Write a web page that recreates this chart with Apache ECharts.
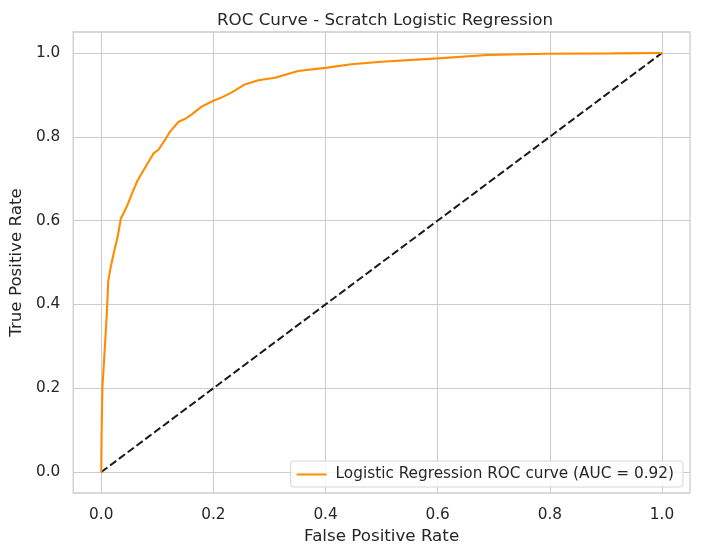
<!DOCTYPE html>
<html>
<head>
<meta charset="utf-8">
<script src="https://cdn.jsdelivr.net/npm/echarts@6/dist/echarts.min.js"></script>
<style>
  html, body { margin: 0; padding: 0; background: #fff; }
  #chart { width: 701px; height: 556px; }
</style>
</head>
<body>
<div id="chart"></div>
<script>
// ROC curve points
const fpr = [0, 0.0005, 0.002, 0.0065, 0.010, 0.0124, 0.017, 0.023, 0.029, 0.035,
  0.040, 0.047, 0.055, 0.0645, 0.0728, 0.0847, 0.0936, 0.102, 0.114, 0.123,
  0.138, 0.150, 0.162, 0.179, 0.200, 0.215, 0.233, 0.256, 0.280, 0.310,
  0.351, 0.403, 0.446, 0.50, 0.60, 0.689, 0.795, 0.913, 1.0]
const tpr = [0, 0.08, 0.20, 0.30, 0.38, 0.455, 0.49, 0.527, 0.56, 0.605,
  0.618, 0.638, 0.665, 0.695, 0.714, 0.741, 0.761, 0.769, 0.793, 0.813,
  0.836, 0.843, 0.854, 0.872, 0.886, 0.894, 0.906, 0.925, 0.935, 0.941,
  0.957, 0.965, 0.973, 0.979, 0.987, 0.995, 0.998, 0.999, 1.0]
// chance line
const chanceX = [0, 1]
const chanceY = [0, 1]
// tick labels
const xTicks = [0, 0.2, 0.4, 0.6, 0.8, 1.0]
const yTicks = [0, 0.2, 0.4, 0.6, 0.8, 1.0]

const textColor = '#262626'
const font = 'DejaVu Sans'

let chart = echarts.init(document.getElementById('chart'))

function axis(name, ticks, gap, margin) {
  return {
    type: 'value',
    min: -0.05,
    max: 1.05,
    name: name,
    nameLocation: 'middle',
    nameGap: gap,
    nameTextStyle: { color: textColor, fontSize: 16.7, fontFamily: font },
    axisLine: { show: false },
    axisTick: { show: false, customValues: ticks },
    axisLabel: {
      customValues: ticks,
      color: textColor,
      fontSize: 15.3,
      fontFamily: font,
      margin: margin,
      formatter: v => v.toFixed(1)
    },
    splitLine: { show: true, lineStyle: { color: '#cccccc', width: 1.1 } }
  }
}

let option = {
  animation: false,
  backgroundColor: '#fff',
  title: {
    text: 'ROC Curve - Scratch Logistic Regression',
    left: 380,
    textAlign: 'center',
    top: 7,
    textStyle: { color: textColor, fontSize: 16.7, fontWeight: 'normal', fontFamily: font }
  },
  grid: {
    left: 71, right: 11, top: 32, bottom: 63,
    show: true,
    borderColor: '#cccccc',
    borderWidth: 1.3
  },
  legend: {
    right: 18,
    bottom: 69,
    orient: 'vertical',
    itemWidth: 30,
    itemHeight: 2,
    itemGap: 0,
    padding: [6, 9, 5, 6],
    borderColor: '#d6d6d6',
    borderWidth: 1,
    borderRadius: 3,
    backgroundColor: 'rgba(255,255,255,0.8)',
    textStyle: { color: textColor, fontSize: 15.3, fontFamily: font, padding: [0, 0, 0, 4] },
    data: [{ name: 'Logistic Regression ROC curve (AUC = 0.92)', icon: 'rect' }]
  },
  xAxis: axis('False Positive Rate', xTicks, 34, 15),
  yAxis: axis('True Positive Rate', yTicks, 46, 13),
  series: [
    {
      name: 'Logistic Regression ROC curve (AUC = 0.92)',
      type: 'line',
      symbol: 'none',
      clip: false,
      lineStyle: { color: '#ff8c00', width: 2.1 },
      itemStyle: { color: '#ff8c00' },
      data: fpr.map((x, i) => [x, tpr[i]])
    },
    {
      name: 'chance',
      type: 'line',
      symbol: 'none',
      z: 1,
      lineStyle: { color: '#1a1a1a', width: 2, type: [7.7, 3.3] },
      data: chanceX.map((x, i) => [x, chanceY[i]])
    }
  ]
}

chart.setOption(option)
</script>
</body>
</html>
